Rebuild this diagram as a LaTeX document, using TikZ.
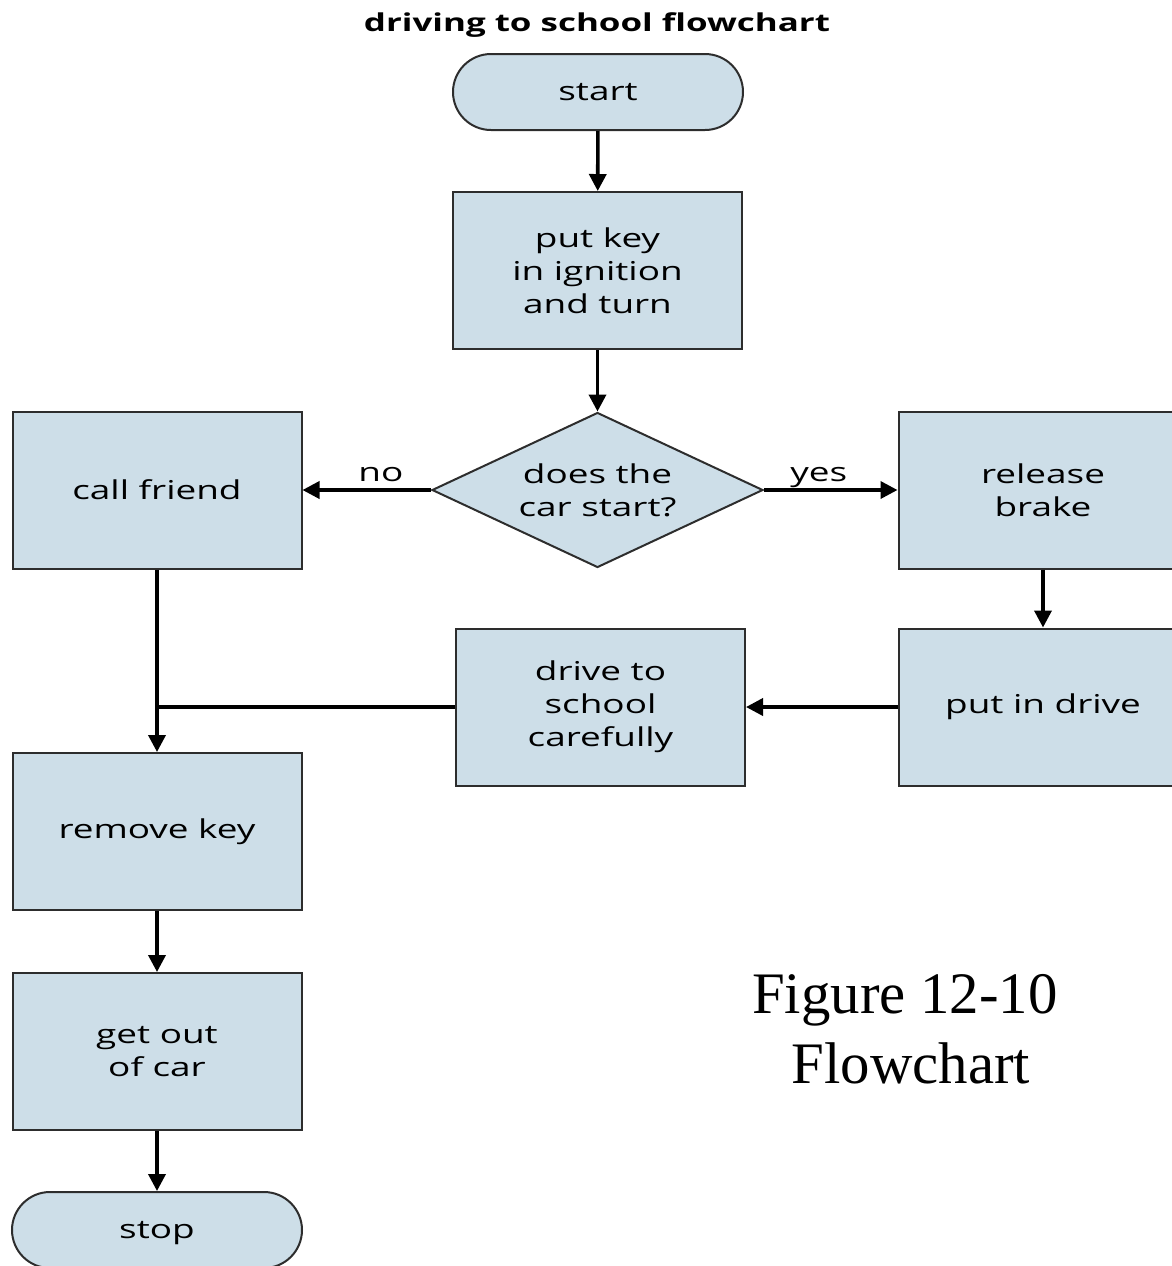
\documentclass[tikz,border=0pt]{standalone}
\usepackage{fontspec}
\setmainfont{Liberation Serif}
\newfontfamily\chartfont[FakeStretch=1.42]{Open Sans}
\usetikzlibrary{shapes.geometric,arrows.meta}
\definecolor{boxfill}{RGB}{205,222,232}
\definecolor{boxline}{RGB}{45,45,45}

\begin{document}
\begin{tikzpicture}[x=0.5pt,y=-0.5pt,
  chart/.style={font=\chartfont\fontsize{13}{16.5}\selectfont},
  base/.style={chart, draw=boxline, line width=1pt, fill=boxfill, align=center, inner sep=0pt},
  procbox/.style={base, rectangle, minimum width=144.5pt, minimum height=78.5pt},
  terminal/.style={base, rectangle, rounded corners=19pt, minimum width=145pt, minimum height=38pt, text depth=0pt},
  decision/.style={base, diamond, aspect=2.14, minimum width=165.5pt, minimum height=77.5pt},
  flow/.style={line width=1.8pt, -{Triangle[length=8.5pt,width=8.5pt]}},
  plain/.style={line width=1.8pt},
  lbl/.style={chart, inner sep=0pt, anchor=base, yshift=4.5pt}
]
\useasboundingbox (0,0) rectangle (1172,1266);
\clip (0,0) rectangle (1172,1266);

% title
\node[font=\chartfont\bfseries\fontsize{12.3}{15}\selectfont, anchor=base, inner sep=0pt]
  (title) at (597,31) {driving to school flowchart};

% steps
\node[terminal] (start) at (598,92) {start};
\node[procbox] (putkey) at (597.5,270.5) {put key\\in ignition\\and turn};
\node[decision] (decide) at (597.5,490) {does the\\car start?};
\node[procbox] (callfriend) at (157,490) {call friend};
\node[procbox] (release) at (1043,490) {release\\brake};
\node[procbox] (putdrive) at (1043,707) {put in drive};
\node[procbox] (drive) at (600.5,707) {drive to\\school\\carefully};
\node[procbox] (removekey) at (157,831.5) {remove key};
\node[procbox] (getout) at (157,1051.5) {get out\\of car};
\node[terminal] (stop) at (157,1230) {stop};

% caption
\node[font=\fontsize{29.4}{35}\selectfont, anchor=base, inner sep=0pt] (figno) at (905,1013) {Figure 12-10};
\node[font=\fontsize{29.4}{35}\selectfont, anchor=base, inner sep=0pt] (figname) at (911,1083) {Flowchart};

% connectors
\draw[flow] (start) -- (putkey);
\draw[flow] (putkey) -- (decide);
\draw[flow] (decide.west) -- node[lbl, pos=0.39] {no} (callfriend.east);
\draw[flow] (decide.east) -- node[lbl, pos=0.41] {yes} (release.west);
\draw[flow] (release) -- (putdrive);
\draw[flow] (putdrive) -- (drive);
\coordinate (join) at (callfriend.south |- drive.west);
\draw[plain] (drive.west) -- (join);
\draw[flow] (callfriend) -- (removekey);
\draw[flow] (removekey) -- (getout);
\draw[flow] (getout) -- (stop);
\end{tikzpicture}
\end{document}
